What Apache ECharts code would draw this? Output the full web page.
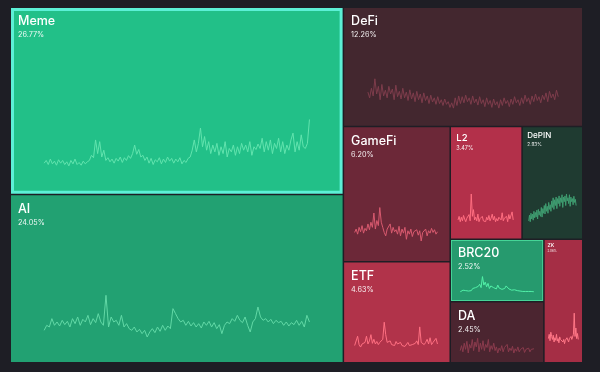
<!DOCTYPE html>
<html><head><meta charset="utf-8">
<script src="https://cdn.jsdelivr.net/npm/echarts@6/dist/echarts.min.js"></script>
<style>html,body{margin:0;padding:0;background:#1e1e25}#c{width:600px;height:372px}</style>
</head><body><div id="c"></div>
<script>
const categories = ['Meme','AI','DeFi','GameFi','ETF','L2','DePIN','BRC20','DA','ZK'];
const shares = [26.77,24.05,12.26,6.20,4.63,3.47,2.93,2.52,2.45,2.06];
const cellColors = ['#22c088','#22a172','#43272f','#6c2838','#b1334a','#b3304a','#1f3b31','#269a6e','#4b2530','#a52e45'];
const lineColors = ['#62e3ae','#62d8a6','#7e3d4c','#d85a6f','#ff7082','#ff6e80','#3f9c70','#52f0a8','#8a3b4d','#ff7787'];

const sparkMeme = [22,30,18,34,20,28,16,32,22,30,18,26,14,30,20,34,18,24,16,28,20,26,
  30,45,38,90,50,85,40,60,
  30,38,26,34,22,36,28,40,24,38,30,44,36,50,
  75,48,62,40,45,
  30,40,22,36,18,32,26,38,20,34,24,40,28,36,22,34,26,38,20,30,24,36,
  40,60,90,55,80,125,70,100,60,85,50,75,
  55,80,45,70,50,85,40,65,55,75,45,70,50,80,60,75,55,85,45,70,62,78,
  65,95,55,85,60,90,50,80,65,95,55,85,50,75,60,90,110,55,85,60,105,70,65,80,150];
const sparkAI = [45,60,55,80,60,70,58,75,62,72,55,80,65,85,60,78,70,90,62,80,68,95,70,60,
  150,55,85,70,75,60,90,55,65,
  50,45,55,40,48,35,45,25,40,50,38,55,42,60,45,58,50,
  110,95,80,
  70,75,60,72,58,68,55,65,52,70,60,72,55,68,50,62,35,
  60,70,65,80,72,90,75,68,85,60,40,70,80,
  115,85,75,80,70,78,65,75,68,72,60,70,58,68,62,75,60,72,55,90,70];
const sparkDeFi = [70,55,80,60,105,65,85,50,90,60,75,55,85,65,78,50,88,58,72,52,80,55,70,48,76,52,68,45,72,50,
  65,42,68,48,60,40,62,44,55,38,58,40,50,35,52,38,45,30,42,28,55,35,60,40,58,42,62,45,55,38,
  60,42,52,36,58,40,50,32,55,38,48,30,52,36,45,28,50,35,55,40,48,32,52,38,58,42,50,35,55,40,
  62,45,55,38,60,45,65,48,58,42,62,50,68,45,72,55,65,50,75,58];
const sparkGameFi = [40,50,35,55,42,60,38,52,45,65,48,70,55,97,50,75,60,113,70,55,40,30,50,45,65,38,55,42,48,35,
  58,30,50,38,55,20,45,35,50,28,42,38,48,32,45,15,40,35,50,30,45,38,52,40,48,35,42,38];
const sparkETF = [25,30,55,28,20,30,25,35,55,30,40,60,32,45,30,38,28,35,40,45,100,60,35,30,40,28,32,25,38,30,
  28,35,25,30,22,28,35,25,30,28,24,32,40,28,85,35,30,28,35,45,30,50,28,35,40,48,30,25];
const sparkL2 = [12,20,8,18,10,22,14,8,16,12,24,10,70,20,35,12,18,10,25,8,15,12,20,10,14,8,18,12,22,10,
  16,25,12,20,8,15,10,18,22,12,28,10,16,12,20,8,24,14,10,30,12,8];
const sparkDePIN = [10,25,8,30,15,28,12,35,18,32,20,38,15,40,25,35,22,45,20,42,30,50,28,55,35,48,30,58,40,52,
  35,62,45,70,40,65,50,72,42,68,55,75,48,70,58,78,45,72,60,75,50,80,62,70,55,78,48,72,60,68,52,74,58,66,50];
const sparkBRC20 = [2,4,6,3,5,8,4,7,5,10,8,12,9,15,20,12,38,18,25,14,22,10,16,20,12,14,9,18,11,15,
  8,12,10,16,20,9,8,6,5,7,4,5,3,4,2,3,2,3,2,3,2,3,2,2];
const sparkDA = [10,18,8,22,12,25,6,20,14,28,10,24,16,30,8,22,12,26,10,20,15,28,8,18,12,22,10,16,6,14,
  10,18,8,15,12,20,8,14,10,17,6,13,9,16,8,12,10,15,7,12,9,14,8,12,10,13];
const sparkZK = [30,40,25,45,35,28,38,22,32,26,40,24,30,20,34,28,25,30,22,28,18,26,24,32,28,22,30,26,35,28,
  24,40,90,35,55,30,42,28];
const sparks = [sparkMeme,sparkAI,sparkDeFi,sparkGameFi,sparkETF,sparkL2,sparkDePIN,sparkBRC20,sparkDA,sparkZK];

const BG = '#1e1e25';
const FONT = 'Inter, Roboto, sans-serif';
const chart = echarts.init(document.getElementById('c'), null, {renderer:'canvas'});

function borderFor(name){
  if (name === 'Meme') return {borderColor:'#5cf0d6', borderWidth:3};
  if (name === 'BRC20') return {borderColor:'#45d597', borderWidth:1};
  return {borderWidth:0};
}
function treemapSeries(labels){
  return {
    type:'treemap', left:11, top:8, right:18, bottom:10, squareRatio:1,
    roam:false, nodeClick:false, breadcrumb:{show:false},
    itemStyle:{gapWidth:1.5, borderWidth:0, borderColor:BG},
    label:{show:false},
    emphasis:{disabled:true},
    data: categories.map((n,i)=>({
      name:n, value:shares[i],
      itemStyle: Object.assign({color:cellColors[i]}, borderFor(n)),
      label: labels ? labels[i] : {show:false}
    }))
  };
}
chart.setOption({backgroundColor:BG, animation:false, series:[treemapSeries(null)]});

const sm = chart.getModel().getSeriesByIndex(0);
const root = sm.getData().tree.root;
const li = sm.layoutInfo || {x:11, y:8};
const rl = root.getLayout() || {x:0,y:0};
const rects = {};
root.children.forEach(node => {
  const l = node.getLayout();
  rects[node.name] = {x: li.x + (rl.x||0) + l.x, y: li.y + (rl.y||0) + l.y, w: l.width, h: l.height};
});

const grids = [], xAxes = [], yAxes = [], lines = [], labels = [];
categories.forEach((n,i)=>{
  const r = rects[n];
  const s = Math.min(1, r.w/92);
  const fs = 12.5*s;
  const bw = borderFor(n).borderWidth || 0;
  labels.push({
    show:true, position:[7*s - bw, 5.5*s - bw], overflow:'none', padding:0, distance:0,
    formatter:'{n|'+n+'}\n{p|'+shares[i].toFixed(2)+'%}',
    rich:{
      n:{fontSize:fs, lineHeight:fs*1.28, color:'#ffffff', fontFamily:FONT, fontWeight:500},
      p:{fontSize:fs*0.58, lineHeight:fs*0.9, color:'rgba(255,255,255,0.92)', fontFamily:FONT}
    }
  });
  grids.push({left:r.x+0.1*r.w, top:r.y+0.6*r.h, width:0.8*r.w, height:0.25*r.h, show:false, containLabel:false});
  xAxes.push({type:'category', gridIndex:i, show:false, boundaryGap:false, data:sparks[i].map((v,k)=>k)});
  yAxes.push({type:'value', gridIndex:i, show:false, min:'dataMin', max:'dataMax', splitLine:{show:false}});
  lines.push({type:'line', xAxisIndex:i, yAxisIndex:i, data:sparks[i], showSymbol:false, symbol:'none', silent:true, z:10,
    lineStyle:{width:1, color:lineColors[i]}});
});

chart.setOption({
  backgroundColor:BG, animation:false,
  grid:grids, xAxis:xAxes, yAxis:yAxes,
  series:[treemapSeries(labels)].concat(lines)
}, true);
</script>
</body></html>
